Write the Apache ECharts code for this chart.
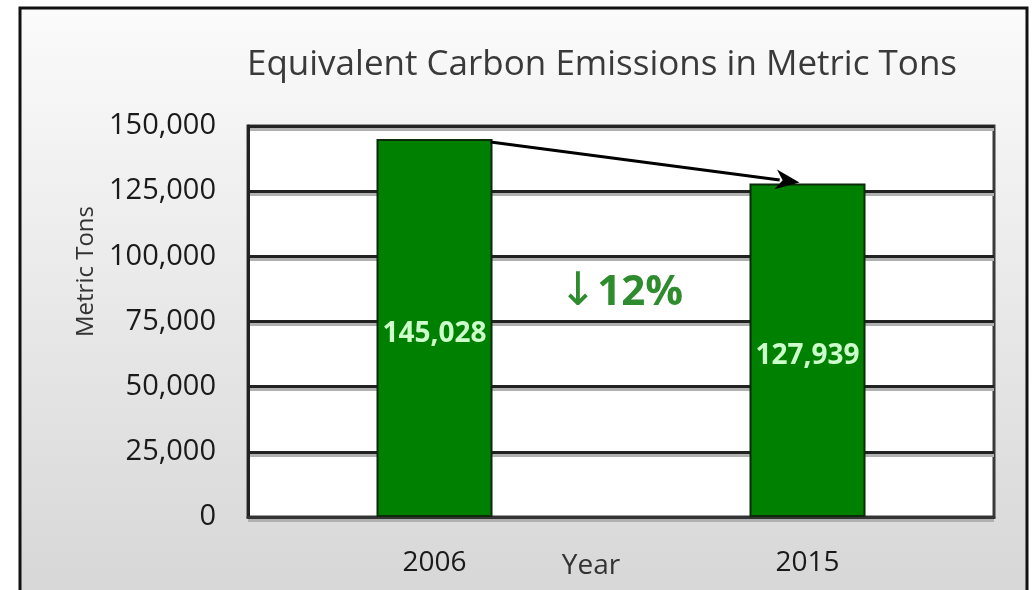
<!DOCTYPE html>
<html>
<head>
<meta charset="utf-8">
<script src="https://cdn.jsdelivr.net/npm/echarts@6/dist/echarts.min.js"></script>
<style>
html,body{margin:0;padding:0;background:#fff;}
#c{width:1032px;height:590px;}
</style>
</head>
<body>
<div id="c"></div>
<script>
const categories = ['2006', '2015'];
const emissions = [145028, 127939];
const yMin = 0, yMax = 150000, yStep = 25000;
const titleText = 'Equivalent Carbon Emissions in Metric Tons';
const yName = 'Metric Tons';
const xName = 'Year';
const changeArrow = '↓';
const changePct = '12%';
const changeLabelValue = 86000;

const FONT = '"Open Sans", sans-serif';
const chart = echarts.init(document.getElementById('c'), null, {renderer: 'canvas'});

const bgGraphic = {
  type: 'rect', z: -10, silent: true,
  shape: {x: 20, y: 8, width: 1007, height: 600},
  style: {
    fill: new echarts.graphic.LinearGradient(0, 0, 0, 1, [
      {offset: 0, color: '#fbfbfb'}, {offset: 1, color: '#d6d6d6'}
    ]),
    stroke: '#111', lineWidth: 3
  }
};

chart.setOption({
  backgroundColor: '#fff',
  animation: false,
  title: {
    text: titleText, left: 597, top: 43, textAlign: 'center',
    textStyle: {fontFamily: FONT, fontSize: 35, fontWeight: 'normal', color: '#3a3a3a'}
  },
  grid: {
    left: 248, top: 126, width: 746, height: 391,
    containLabel: false, outerBoundsMode: 'none',
    show: true, backgroundColor: '#fff', borderColor: '#3a3a3a', borderWidth: 3
  },
  xAxis: {
    type: 'category', data: categories,
    name: xName, nameLocation: 'middle', nameGap: 35, nameMoveOverlap: false,
    nameTextStyle: {fontFamily: FONT, fontSize: 28, color: '#333', padding: [0, 60, 0, 0]},
    axisLine: {show: true, lineStyle: {color: '#333', width: 3}},
    axisTick: {show: false},
    axisLabel: {fontFamily: FONT, fontSize: 28, color: '#1a1a1a', margin: 32}
  },
  yAxis: {
    type: 'value', min: yMin, max: yMax, interval: yStep,
    name: yName, nameLocation: 'middle', nameGap: 150, nameRotate: 90, nameMoveOverlap: false,
    nameTextStyle: {fontFamily: FONT, fontSize: 24, color: '#333', padding: [0, 0, 0, 100]},
    axisLine: {show: true, lineStyle: {color: '#222', width: 3}},
    axisTick: {show: false},
    axisLabel: {
      fontFamily: FONT, fontSize: 29, color: '#1a1a1a', margin: 32,
      formatter: v => v.toLocaleString('en-US')
    },
    splitLine: {show: true, lineStyle: {color: '#222', width: 3, shadowColor: '#b0b0b0', shadowOffsetY: 3, shadowBlur: 0}}
  },
  series: [{
    type: 'bar', data: emissions, barWidth: 116,
    itemStyle: {color: '#008000', borderColor: '#0b2b0b', borderWidth: 2},
    label: {
      show: true, position: 'inside', offset: [0, 6],
      fontFamily: FONT, fontSize: 28, fontWeight: 'bold', color: '#ccffcc',
      formatter: p => p.value.toLocaleString('en-US')
    }
  }],
  graphic: [bgGraphic]
});

// Arrow from top-right of first bar to top of second bar, and change annotation
const p0 = chart.convertToPixel({gridIndex: 0}, [categories[0], emissions[0]]);
const p1 = chart.convertToPixel({gridIndex: 0}, [categories[1], emissions[1]]);
const sx = p0[0] + 56, sy = p0[1] + 3;
const ex = p1[0] - 8, ey = p1[1] - 1;
const dx = ex - sx, dy = ey - sy, L = Math.hypot(dx, dy);
const ux = dx / L, uy = dy / L, nx = -uy, ny = ux;
const hl = 24, hw = 10;
const bx = ex - ux * hl, by = ey - uy * hl;
const pc = chart.convertToPixel({gridIndex: 0}, [categories[0], changeLabelValue]);
const gridCenterX = 248 + 746 / 2;
const GREEN = '#2e8b2e';

chart.setOption({
  graphic: [bgGraphic,
    {type: 'line', z: 100, shape: {x1: sx, y1: sy, x2: bx + ux * 4, y2: by + uy * 4}, style: {stroke: '#000', lineWidth: 3}},
    {type: 'polygon', z: 100, shape: {points: [[ex, ey], [bx + nx * hw, by + ny * hw], [bx + ux * 7, by + uy * 7], [bx - nx * hw, by - ny * hw]]}, style: {fill: '#000'}},
    {type: 'text', z: 100, x: gridCenterX, y: pc[1],
      style: {
        text: '{a|' + changeArrow + '}{b|' + changePct + '}', align: 'center', verticalAlign: 'middle',
        fill: GREEN,
        rich: {
          a: {fontFamily: '"DejaVu Sans"', fontSize: 46, fill: GREEN, color: GREEN, fontWeight: 'normal'},
          b: {fontFamily: FONT, fontSize: 42, fontWeight: 'bold', fill: GREEN, color: GREEN}
        }
      }}
  ]
});
</script>
</body>
</html>
